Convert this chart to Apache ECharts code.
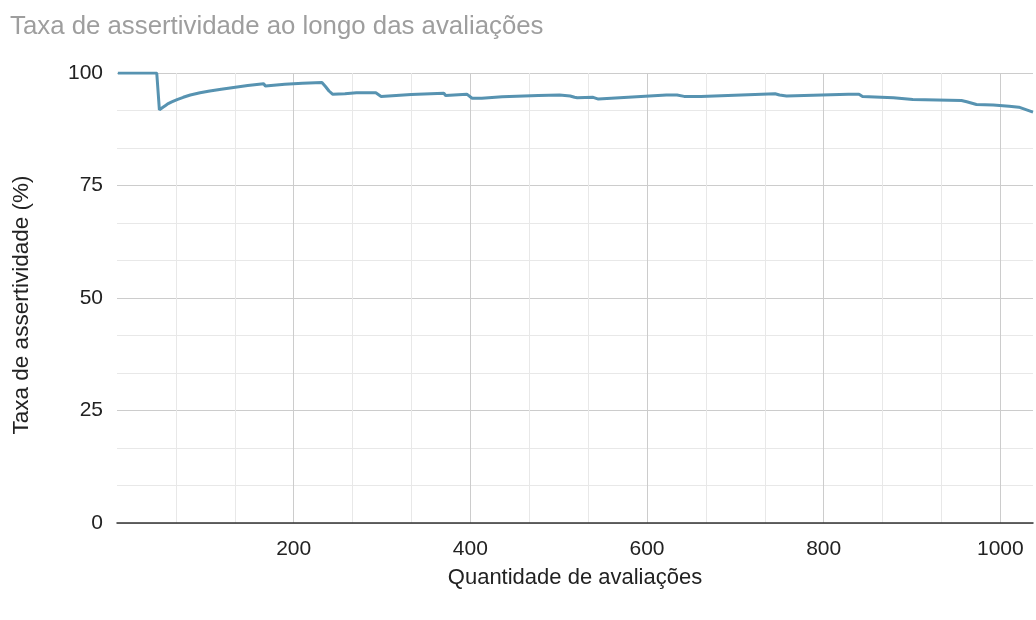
<!DOCTYPE html>
<html>
<head>
<meta charset="utf-8">
<script src="https://cdn.jsdelivr.net/npm/echarts@6/dist/echarts.min.js"></script>
<style>
  html, body { margin: 0; padding: 0; background: #fff; }
  #chart { width: 1036px; height: 620px; }
</style>
</head>
<body>
<div id="chart"></div>
<script>
// quantidade de avaliações (eixo x)
const evaluations = [1, 45, 48, 50, 52, 55, 58, 62, 68, 75, 83, 94, 105, 118, 132, 148, 166, 168, 190, 210, 232, 236, 240, 244,
  258, 271, 272, 293, 295, 299, 333, 335, 370, 372, 396, 398, 402, 413, 436, 438, 477, 479, 501, 503, 513, 518, 521,
  539, 545, 622, 634, 642, 661, 745, 750, 758, 828, 840, 844, 879, 901, 956, 962, 973, 992, 1010, 1021, 1037];
// taxa de assertividade (%)
const accuracy = [100, 100, 91.8, 92.1, 92.4, 92.8, 93.2, 93.6, 94.1, 94.6, 95.1, 95.6, 96.0, 96.4, 96.8, 97.2, 97.6, 97.1, 97.5, 97.7, 97.9, 97.0, 96.0, 95.3,
  95.4, 95.6, 95.3, 95.6, 95.3, 94.8, 95.2, 95.1, 95.5, 95.0, 95.3, 94.9, 94.4, 94.4, 94.7, 94.3, 95.0, 94.8, 95.1, 94.9, 94.9, 94.6, 94.5,
  94.6, 94.2, 95.1, 95.1, 94.8, 94.8, 95.4, 95.1, 94.9, 95.3, 95.3, 94.8, 94.5, 94.1, 93.9, 93.6, 93.0, 92.9, 92.6, 92.4, 91.3];
const xTicks = [200, 400, 600, 800, 1000];
const yTicks = [0, 25, 50, 75, 100];

const font = 'Arial, "Liberation Sans", sans-serif';
const chart = echarts.init(document.getElementById('chart'));

chart.setOption({
  animation: false,
  title: {
    text: 'Taxa de assertividade ao longo das avaliações',
    left: 5,
    top: 9,
    textStyle: { fontFamily: font, fontSize: 25.8, fontWeight: 'normal', color: '#9e9e9e' }
  },
  grid: { left: 117, right: 0, top: 73, bottom: 97 },
  xAxis: {
    type: 'value',
    min: 0,
    max: 1037,
    interval: 200,
    name: 'Quantidade de avaliações',
    nameLocation: 'middle',
    nameGap: 44,
    nameTextStyle: { fontFamily: font, fontSize: 22, color: '#222' },
    axisLine: { show: true, lineStyle: { color: '#333', width: 1.5 } },
    axisTick: { show: false },
    axisLabel: {
      margin: 16,
      fontFamily: font, fontSize: 21, color: '#222',
      formatter: v => xTicks.includes(v) ? String(v) : ''
    },
    splitLine: {
      show: true,
      lineStyle: { color: ['rgba(0,0,0,0)', '#cccccc', '#cccccc', '#cccccc', '#cccccc', '#cccccc', 'rgba(0,0,0,0)'] }
    },
    minorTick: { show: false, splitNumber: 3 },
    minorSplitLine: { show: true, lineStyle: { color: '#e8e8e8' } }
  },
  yAxis: {
    type: 'value',
    min: 0,
    max: 100,
    interval: 25,
    name: 'Taxa de assertividade (%)',
    nameLocation: 'middle',
    nameRotate: 90,
    nameGap: 84,
    nameTextStyle: { fontFamily: font, fontSize: 22.5, color: '#222', padding: [0, 14, 0, 0] },
    axisLine: { show: false },
    axisTick: { show: false },
    axisLabel: {
      margin: 14,
      fontFamily: font, fontSize: 21, color: '#222',
      formatter: v => yTicks.includes(v) ? String(v) : ''
    },
    splitLine: { show: true, lineStyle: { color: '#cccccc' } },
    minorTick: { show: false, splitNumber: 3 },
    minorSplitLine: { show: true, lineStyle: { color: '#e8e8e8' } }
  },
  series: [{
    type: 'line',
    data: evaluations.map((x, i) => [x, accuracy[i]]),
    showSymbol: false,
    lineStyle: { color: '#5793b1', width: 3 },
    itemStyle: { color: '#5793b1' }
  }]
});
</script>
</body>
</html>
